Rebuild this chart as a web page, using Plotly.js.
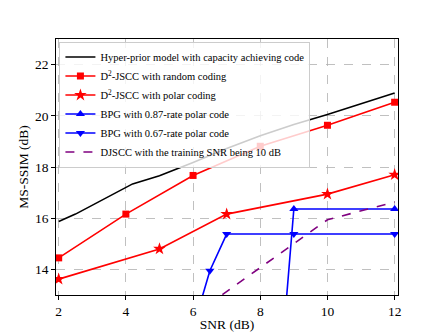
<!DOCTYPE html>
<html>
<head>
<meta charset="utf-8">
<script src="https://cdn.plot.ly/plotly-3.0.1.min.js"></script>
<style>
  html, body { margin: 0; padding: 0; background: white; }
  #plot { width: 443px; height: 332px; }
</style>
</head>
<body>
<div id="plot"></div>
<script>
"use strict";

// courbe de référence (sans marqueurs)
var hyper_x = [2, 2.5, 4.2, 5, 6, 7, 8, 9, 10, 11, 12];
var hyper_y = [15.87, 16.16, 17.34, 17.66, 18.18, 18.72, 19.22, 19.66, 20.05, 20.47, 20.89];

var rand_x = [2, 4, 6, 8, 10, 12];
var rand_y = [14.45, 16.16, 17.67, 18.81, 19.63, 20.53];

var polar_x = [2, 5, 7, 10, 12];
var polar_y = [13.62, 14.8, 16.16, 16.94, 17.7];

var bpg87_x = [8, 9, 12];
var bpg87_y = [0.4, 16.36, 16.36];

var bpg67_x = [6, 6.5, 7, 9, 12];
var bpg67_y = [11.7, 13.95, 15.38, 15.38, 15.38];

var djscc_x = [6, 8, 10, 12];
var djscc_y = [12.2, 14.08, 15.94, 16.63];

var x_ticks = [2, 4, 6, 8, 10, 12];
var y_ticks = [14, 16, 18, 20, 22];

var serif = "Liberation Serif, Times New Roman, serif";

var traces = [
  {
    x: hyper_x, y: hyper_y, mode: 'lines',
    name: 'Hyper-prior model with capacity achieving code',
    line: {color: 'black', width: 1.6}
  },
  {
    x: rand_x, y: rand_y, mode: 'lines+markers',
    name: 'D<sup>2</sup>-JSCC with random coding',
    line: {color: 'red', width: 1.6},
    marker: {symbol: 'square', size: 7, color: 'red'}
  },
  {
    x: polar_x, y: polar_y, mode: 'lines+markers',
    name: 'D<sup>2</sup>-JSCC with polar coding',
    line: {color: 'red', width: 1.6},
    marker: {symbol: 'star', size: 9.5, color: 'red'}
  },
  {
    x: bpg87_x, y: bpg87_y, mode: 'lines+markers',
    name: 'BPG with 0.87-rate polar code',
    line: {color: 'blue', width: 1.6},
    marker: {symbol: 'triangle-up', size: 8, color: 'blue'}
  },
  {
    x: bpg67_x, y: bpg67_y, mode: 'lines+markers',
    name: 'BPG with 0.67-rate polar code',
    line: {color: 'blue', width: 1.6},
    marker: {symbol: 'triangle-down', size: 8, color: 'blue'}
  },
  {
    x: djscc_x, y: djscc_y, mode: 'lines',
    name: 'DJSCC with the training SNR being 10 dB',
    line: {color: 'purple', width: 1.6, dash: 'dash'}
  }
];

var layout = {
  width: 443,
  height: 332,
  margin: {l: 56, r: 44.5, t: 39, b: 36.5},
  paper_bgcolor: 'white',
  plot_bgcolor: 'white',
  font: {family: serif, color: 'black', size: 13.5},
  showlegend: true,
  legend: {
    x: 0.01, y: 0.99, xanchor: 'left', yanchor: 'top',
    bgcolor: 'rgba(255,255,255,0.8)',
    bordercolor: '#cccccc', borderwidth: 1,
    font: {family: serif, size: 10.5, color: 'black'},
    itemwidth: 30,
    tracegroupgap: 0
  },
  xaxis: {
    range: [1.92, 12.1],
    tickvals: x_ticks,
    ticks: 'outside', ticklen: 3.5, tickwidth: 1, tickcolor: 'black',
    showline: true, mirror: true, linecolor: 'black', linewidth: 1.2,
    showgrid: true, gridcolor: '#b0b0b0', gridwidth: 0.8, griddash: 'dash',
    zeroline: false,
    tickfont: {family: serif, size: 13.5},
    title: {text: 'SNR (dB)', font: {family: serif, size: 13.5}}
  },
  yaxis: {
    range: [13, 23],
    tickvals: y_ticks,
    ticks: 'outside', ticklen: 3.5, tickwidth: 1, tickcolor: 'black',
    showline: true, mirror: true, linecolor: 'black', linewidth: 1.2,
    showgrid: true, gridcolor: '#b0b0b0', gridwidth: 0.8, griddash: 'dash',
    zeroline: false,
    automargin: true,
    tickfont: {family: serif, size: 13.5},
    title: {text: 'MS-SSIM (dB)', font: {family: serif, size: 13.5}, standoff: 3}
  }
};

Plotly.newPlot('plot', traces, layout, {displayModeBar: false, staticPlot: true});
</script>
</body>
</html>
